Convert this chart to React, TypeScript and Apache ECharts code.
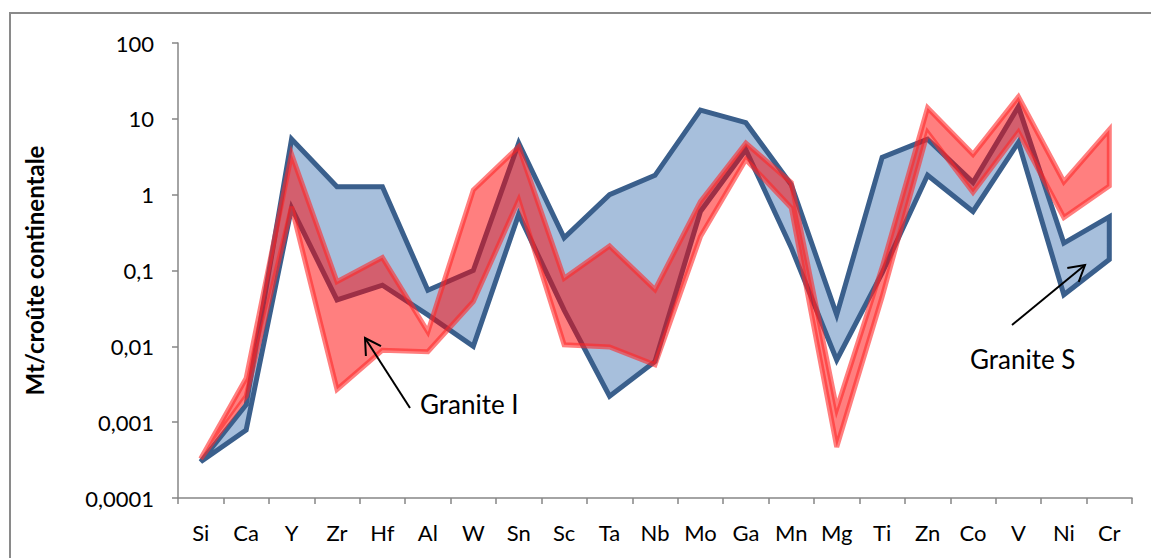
import React, { useEffect, useRef } from "react";
import * as echarts from "echarts";

const categories = ["Si", "Ca", "Y", "Zr", "Hf", "Al", "W", "Sn", "Sc", "Ta", "Nb", "Mo", "Ga", "Mn", "Mg", "Ti", "Zn", "Co", "V", "Ni", "Cr"];

const graniteSUpper = [0.0003, 0.0017, 5.4, 1.27, 1.27, 0.055, 0.1, 4.8, 0.27, 1.0, 1.8, 13, 8.9, 1.35, 0.026, 3.1, 5.4, 1.45, 14.5, 0.23, 0.51];
const graniteSLower = [0.0003, 0.00079, 0.67, 0.041, 0.064, 0.026, 0.01, 0.55, 0.03, 0.0022, 0.0063, 0.6, 3.9, 0.2, 0.0066, 0.093, 1.8, 0.6, 4.9, 0.048, 0.14];

const graniteIUpper = [0.00033, 0.0038, 3.4, 0.071, 0.148, 0.0155, 1.15, 4.3, 0.079, 0.21, 0.056, 0.81, 4.8, 1.44, 0.0015, 0.11, 14, 3.4, 19.5, 1.48, 7.2];
const graniteILower = [0.00033, 0.0022, 0.69, 0.0027, 0.0089, 0.0085, 0.039, 0.85, 0.0105, 0.0098, 0.0057, 0.28, 2.9, 0.67, 0.00047, 0.045, 6.6, 1.07, 6.7, 0.5, 1.3];

const yTickLabels = ["0,0001", "0,001", "0,01", "0,1", "1", "10", "100"];
const yAxisTitle = "Mt/croûte continentale";
const labelI = "Granite I";
const labelS = "Granite S";

const FONT = "Lato, 'Open Sans', sans-serif";

function makeBand(name: string, upper: number[], lower: number[], fill: string, stroke: string, z: number) {
  return {
    type: "custom",
    name,
    coordinateSystem: "cartesian2d",
    data: [[0, upper[0]]],
    z,
    silent: true,
    clip: false,
    renderItem: (params: any, api: any) => {
      const pts: number[][] = [];
      upper.forEach((v, i) => pts.push(api.coord([i, v])));
      for (let i = lower.length - 1; i >= 0; i--) pts.push(api.coord([i, lower[i]]));
      return {
        type: "polygon",
        shape: { points: pts },
        style: { fill, stroke, lineWidth: 5, lineJoin: "miter" },
      };
    },
  };
}

export default function App() {
  const ref = useRef<HTMLDivElement>(null);
  useEffect(() => {
    if (!ref.current) return;
    const chart = echarts.init(ref.current, undefined, { renderer: "svg" });
    chart.setOption({
      animation: false,
      backgroundColor: "#ffffff",
      grid: { left: 178, right: 19, top: 43, bottom: 60 },
      xAxis: {
        type: "category",
        data: categories,
        boundaryGap: true,
        axisLine: { lineStyle: { color: "#868686", width: 1.5 } },
        axisTick: { show: true, length: 6, alignWithLabel: false, lineStyle: { color: "#868686", width: 1.5 } },
        axisLabel: { color: "#000", fontSize: 22, fontFamily: FONT, margin: 23, interval: 0 },
        splitLine: { show: false },
      },
      yAxis: {
        type: "log",
        logBase: 10,
        min: 0.0001,
        max: 100,
        name: yAxisTitle,
        nameLocation: "middle",
        nameGap: 132,
        nameTextStyle: { color: "#000", fontSize: 24, fontWeight: "bold", fontFamily: FONT },
        axisLine: { show: true, lineStyle: { color: "#868686", width: 1.5 } },
        axisTick: { show: true, length: 6, lineStyle: { color: "#868686", width: 1.5 } },
        axisLabel: {
          color: "#000",
          fontSize: 22,
          fontFamily: FONT,
          margin: 24,
          formatter: (v: number) => yTickLabels[Math.round(Math.log10(v)) + 4],
        },
        splitLine: { show: false },
      },
      series: [
        makeBand("Granite S", graniteSUpper, graniteSLower, "#A7BFDC", "#3A5F8C", 2),
        makeBand("Granite I", graniteIUpper, graniteILower, "rgba(255,0,0,0.5)", "rgba(255,40,40,0.6)", 3),
      ],
      graphic: [
        { type: "polyline", shape: { points: [[10, 700], [10, 13], [1300, 13]] }, style: { fill: "none", stroke: "#8a8a8a", lineWidth: 2 }, z: 0, silent: true },
        { type: "line", shape: { x1: 410, y1: 408, x2: 365, y2: 338 }, style: { stroke: "#000", lineWidth: 2 }, z: 10 },
        { type: "polyline", shape: { points: [[365.9, 356], [365, 338], [381, 346.2]] }, style: { stroke: "#000", lineWidth: 2, fill: "none" }, z: 10 },
        { type: "text", x: 420, y: 404, style: { text: labelI, font: `26px ${FONT}`, fill: "#000", verticalAlign: "middle", align: "left" }, z: 10 },
        { type: "line", shape: { x1: 1012, y1: 325, x2: 1085, y2: 265 }, style: { stroke: "#000", lineWidth: 2 }, z: 10 },
        { type: "polyline", shape: { points: [[1067.3, 268], [1085, 265], [1078.7, 281.8]] }, style: { stroke: "#000", lineWidth: 2, fill: "none" }, z: 10 },
        { type: "text", x: 970, y: 359, style: { text: labelS, font: `26px ${FONT}`, fill: "#000", verticalAlign: "middle", align: "left" }, z: 10 },
      ],
    });
    return () => chart.dispose();
  }, []);
  return <div ref={ref} style={{ position: "fixed", left: 0, top: 0, width: 1151, height: 558 }} />;
}
